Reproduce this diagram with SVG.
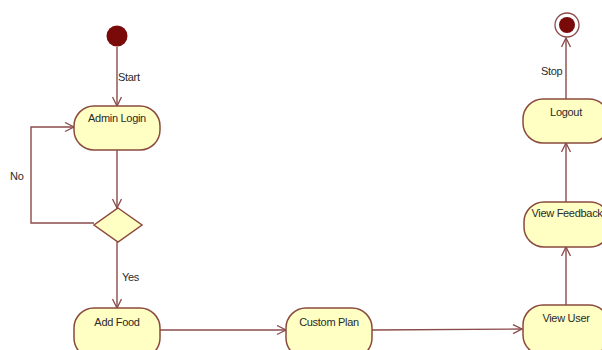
<svg xmlns="http://www.w3.org/2000/svg" width="602" height="350" viewBox="0 0 602 350">
<style>
.node{fill:#FFFFC4;stroke:#8B4A3E;stroke-width:1.5}
.lbl{font-family:"Liberation Sans",Arial,sans-serif;font-size:11px;fill:#2a2a2a;letter-spacing:-0.3px}
.c{text-anchor:middle}
.edge{fill:none;stroke:#8B4A4A;stroke-width:1.4;marker-end:url(#arr)}
</style>
<defs>
<marker id="arr" markerWidth="12" markerHeight="12" refX="10" refY="5" orient="auto" markerUnits="userSpaceOnUse">
<path d="M1,0.5 L10,5 L1,9.5" fill="none" stroke="#8B4A4A" stroke-width="1.3"/>
</marker>
</defs>
<rect width="602" height="350" fill="#fff"/>
<g id="connectors">
<path class="edge" d="M117,47 L117,106"/>
<path class="edge" d="M117,150 L117,208"/>
<path class="edge" d="M94,223 L31,223 L31,127 L74,127"/>
<path class="edge" d="M117,242 L117,308"/>
<path class="edge" d="M160,330 L286,330"/>
<path class="edge" d="M372,330 L522,329"/>
<path class="edge" d="M566,305 L566,247"/>
<path class="edge" d="M566,202 L566,143"/>
<path class="edge" d="M566,99 L566,38"/>
<text class="lbl" x="118" y="81">Start</text>
<text class="lbl" x="10" y="180">No</text>
<text class="lbl" x="122" y="281">Yes</text>
<text class="lbl" x="541" y="75">Stop</text>
</g>
<g id="start"><circle cx="117" cy="36" r="10.5" fill="#7A0A0A"/></g>
<g id="end">
<circle cx="567" cy="25" r="12" fill="#fff" stroke="#8B4A4A" stroke-width="1.3"/>
<circle cx="567" cy="25" r="8" fill="#7A0A0A"/>
</g>
<g id="admin-login"><rect class="node" x="74" y="106" width="86" height="44" rx="20"/><text class="lbl c" x="117" y="122">Admin Login</text></g>
<g id="decision"><path class="node" d="M118,208 L142,225 L118,242 L94,225 Z"/></g>
<g id="add-food"><rect class="node" x="74" y="308" width="86" height="50" rx="20"/><text class="lbl c" x="117" y="326">Add Food</text></g>
<g id="custom-plan"><rect class="node" x="286" y="308" width="86" height="50" rx="20"/><text class="lbl c" x="329" y="326">Custom Plan</text></g>
<g id="view-user"><rect class="node" x="523" y="305" width="86" height="50" rx="20"/><text class="lbl c" x="566" y="322">View User</text></g>
<g id="view-feedback"><rect class="node" x="524" y="202" width="86" height="45" rx="20"/><text class="lbl c" x="567" y="217">View Feedback</text></g>
<g id="logout"><rect class="node" x="523" y="99" width="86" height="44" rx="20"/><text class="lbl c" x="566" y="116">Logout</text></g>
</svg>
